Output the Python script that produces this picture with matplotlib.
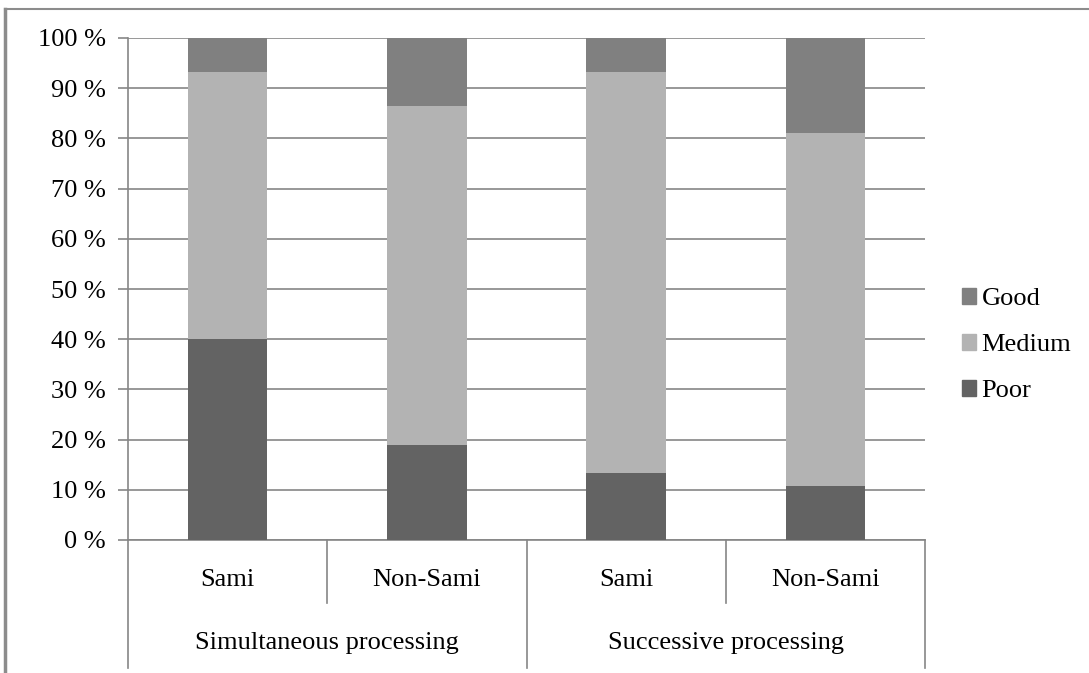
import numpy as np
import matplotlib.pyplot as plt
from matplotlib.lines import Line2D
from matplotlib.patches import Patch

groups = ["Simultaneous processing", "Successive processing"]
subgroups = ["Sami", "Non-Sami", "Sami", "Non-Sami"]
poor = [40.0, 18.9, 13.3, 10.8]
medium = [53.3, 67.6, 80.0, 70.3]
good = [6.7, 13.5, 6.7, 18.9]
yticks = [0, 10, 20, 30, 40, 50, 60, 70, 80, 90, 100]

c_good = "#808080"
c_medium = "#b3b3b3"
c_poor = "#636363"
line_c = "#868686"
fs = 19

plt.rcParams["font.family"] = ["Liberation Serif", "DejaVu Serif"]

fig = plt.figure(figsize=(10.89, 6.73), dpi=100)
ax = fig.add_axes([128 / 1089, 133 / 673, 797 / 1089, 502 / 673])

x = np.arange(len(subgroups))
w = 0.4
ax.bar(x, poor, w, color=c_poor, zorder=3)
ax.bar(x, medium, w, bottom=poor, color=c_medium, zorder=3)
ax.bar(x, good, w, bottom=np.add(poor, medium), color=c_good, zorder=3)

ax.set_xlim(-0.5, len(subgroups) - 0.5)
ax.set_ylim(0, 100)
ax.set_yticks(yticks)
ax.set_yticklabels([f"{v} %" for v in yticks], fontsize=fs)
ax.yaxis.grid(True, color=line_c, linewidth=1.2, zorder=0)
ax.tick_params(axis="y", length=7, color=line_c, width=1.2, pad=9)
ax.set_xticks([])
for s in ["top", "right"]:
    ax.spines[s].set_visible(False)
ax.spines["left"].set_color(line_c)
ax.spines["bottom"].set_color(line_c)
ax.spines["left"].set_linewidth(1.2)
ax.spines["bottom"].set_linewidth(1.2)

# category labels and separators below the axis
tr = ax.get_xaxis_transform()
for i, lab in enumerate(subgroups):
    ax.text(i, -0.08, lab, transform=tr, ha="center", va="center", fontsize=fs)
for k in range(len(subgroups) + 1):
    edge = k - 0.5
    depth = -0.254 if k % 2 == 0 else -0.125
    ax.add_line(Line2D([edge, edge], [0, depth], transform=tr, color=line_c,
                       linewidth=1.2, clip_on=False))
for j, g in enumerate(groups):
    ax.text(2 * j + 0.5, -0.205, g, transform=tr, ha="center", va="center", fontsize=fs)

handles = [Patch(color=c_good), Patch(color=c_medium), Patch(color=c_poor)]
fig.legend(handles, ["Good", "Medium", "Poor"], loc="center left",
           bbox_to_anchor=(938 / 1089, 1 - 345 / 673), frameon=False,
           fontsize=fs, handlelength=0.55, handleheight=0.55, handletextpad=0.2,
           labelspacing=0.9)

# outer border remnants at left and top
fig.add_artist(Line2D([5 / 1089, 5 / 1089], [0, 1 - 9 / 673], transform=fig.transFigure,
                      color="#8c8c8c", linewidth=2.5))
fig.add_artist(Line2D([5 / 1089, 1], [1 - 9 / 673, 1 - 9 / 673], transform=fig.transFigure,
                      color="#8c8c8c", linewidth=1.5))

fig.savefig("out.png", dpi=100)
